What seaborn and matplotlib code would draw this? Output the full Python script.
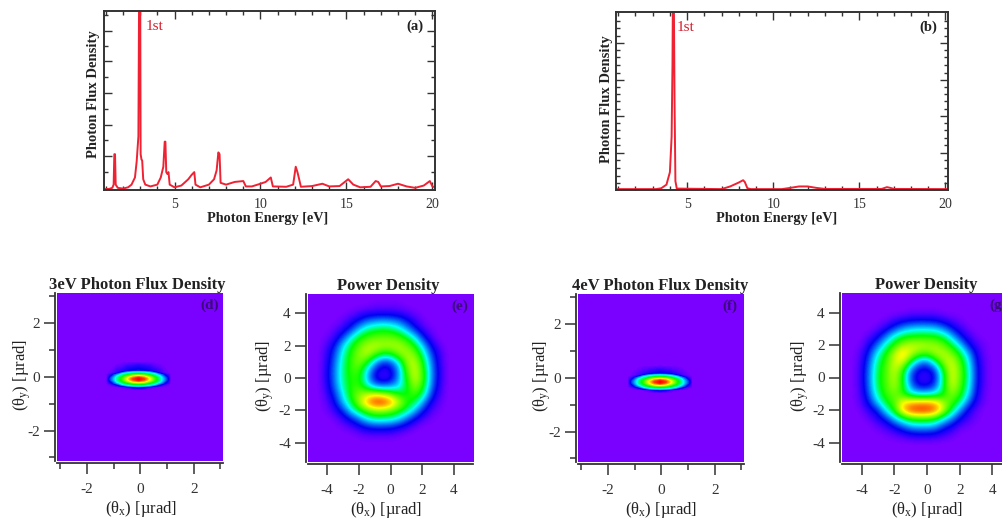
import numpy as np
import matplotlib
matplotlib.use("Agg")
import matplotlib.pyplot as plt
import seaborn as sns
from matplotlib.colors import LinearSegmentedColormap
from matplotlib.ticker import FixedLocator, NullFormatter

# spectra (flux is 0-1 of the axis height)
energy_a = [0.87, 1.2, 1.38, 1.46, 1.5, 1.54, 1.58, 1.7, 2.0, 2.3, 2.5, 2.7, 2.8, 2.9, 2.95, 3.0, 3.03, 3.08, 3.12, 3.18,
            3.3, 3.6, 4.0, 4.2, 4.35, 4.43, 4.47, 4.52, 4.58, 4.65, 4.72, 5.0, 5.4, 5.8, 6.0, 6.05, 6.15, 6.22, 6.5,
            7.0, 7.3, 7.45, 7.55, 7.62, 7.68, 8.0, 8.5, 9.0, 9.15, 9.5, 10.0, 10.3, 10.6, 10.72, 11.5, 11.9, 12.05,
            12.15, 12.25, 12.35, 13.0, 13.6, 14.0, 14.6, 15.1, 15.4, 15.8, 16.4, 16.7, 16.85, 17.0, 17.5, 18.0, 18.5,
            19.0, 19.5, 19.85, 20.0, 20.15]
flux_a = [.005, .006, .012, .03, .2, .2, .03, .012, .008, .015, .03, .07, .16, .3, 1.3, 1.3, .2, .17, .165, .06,
          .03, .02, .03, .07, .13, .27, .27, .1, .09, .1, .03, .015, .025, .06, .085, .09, .1, .03, .015,
          .03, .06, .11, .21, .2, .04, .03, .045, .05, .02, .02, .035, .045, .07, .02, .018, .03, .13,
          .1, .06, .018, .022, .035, .02, .022, .06, .03, .015, .018, .05, .045, .02, .022, .035, .02,
          .012, .025, .05, .02, .015]

energy_b = [0.87, 3.2, 3.5, 3.8, 4.0, 4.1, 4.15, 4.18, 4.22, 4.27, 4.32, 4.4, 7.0, 7.5, 8.0, 8.25, 8.35, 8.5, 8.7,
            10.5, 11.0, 11.5, 12.0, 12.5, 13.0, 16.3, 16.6, 16.8, 17.0, 20.15]
flux_b = [.005, .005, .01, .03, .1, .3, .7, 1.2, 1.2, .5, .05, .008, .005, .02, .042, .055, .045, .01, .005,
          .005, .012, .02, .02, .012, .006, .006, .016, .012, .006, .005]

# central spot maps, rows go top to bottom
spot_x_d = [-3.1, -1.27, -1.07, -.87, -.67, -.47, -.27, -.07, .13, .33, .53, .73, .93, 1.13, 3.1]
spot_y_d = [3.1, .55, .4, .21, .16, .11, .06, .01, -.04, -.09, -.14, -.19, -.24, -.29, -.34, -.39, -.49, -3.1]
spot_d = [[0] * 15,
          [0] * 15,
          [0, 0, 0, 1, 2, 4, 5, 6, 5, 4, 2, 1, 0, 0, 0],
          [0, 0, 1, 4, 6, 9, 11, 12, 11, 9, 6, 4, 1, 0, 0],
          [0, 0, 1, 4, 11, 24, 31, 33, 31, 24, 11, 4, 1, 0, 0],
          [0, 0, 3, 11, 30, 38, 42, 43, 42, 38, 30, 11, 3, 0, 0],
          [0, 0, 8, 24, 38, 46, 55, 59, 55, 46, 38, 24, 8, 0, 0],
          [0, 0, 12, 33, 44, 57, 71, 77, 71, 57, 44, 33, 12, 0, 0],
          [0, 0, 18, 37, 50, 68, 85, 96, 85, 68, 50, 37, 18, 0, 0],
          [0, 0, 20, 38, 52, 72, 93, 100, 93, 72, 52, 38, 20, 0, 0],
          [0, 0, 18, 37, 50, 68, 85, 96, 85, 68, 50, 37, 18, 0, 0],
          [0, 0, 12, 33, 44, 57, 71, 77, 71, 57, 44, 33, 12, 0, 0],
          [0, 0, 8, 24, 38, 46, 55, 59, 55, 46, 38, 24, 8, 0, 0],
          [0, 0, 3, 11, 30, 38, 42, 43, 42, 38, 30, 11, 3, 0, 0],
          [0, 0, 1, 4, 11, 24, 31, 33, 31, 24, 11, 4, 1, 0, 0],
          [0, 0, 0, 0, 1, 3, 8, 11, 8, 3, 1, 0, 0, 0, 0],
          [0] * 15,
          [0] * 15]

spot_x_f = [-3.1, -1.25, -1.05, -.85, -.65, -.45, -.25, -.05, .15, .35, .55, .75, .95, 1.15, 3.1]
spot_y_f = [3.1, .45, .3, .14, .09, .04, -.01, -.06, -.11, -.16, -.21, -.26, -.31, -.36, -.41, -.46, -.56, -3.1]
spot_f = [[0] * 15,
          [0] * 15,
          [0, 0, 0, 1, 2, 3, 4, 5, 4, 3, 2, 1, 0, 0, 0],
          [0, 0, 1, 3, 5, 8, 10, 12, 10, 8, 5, 3, 1, 0, 0],
          [0, 0, 1, 4, 11, 24, 31, 33, 31, 24, 11, 4, 1, 0, 0],
          [0, 0, 3, 11, 30, 38, 42, 43, 42, 38, 30, 11, 3, 0, 0],
          [0, 0, 8, 24, 38, 46, 55, 59, 55, 46, 38, 24, 8, 0, 0],
          [0, 0, 12, 33, 44, 57, 71, 77, 71, 57, 44, 33, 12, 0, 0],
          [0, 0, 18, 37, 50, 68, 85, 96, 85, 68, 50, 37, 18, 0, 0],
          [0, 0, 20, 38, 52, 72, 93, 100, 93, 72, 52, 38, 20, 0, 0],
          [0, 0, 18, 37, 50, 68, 85, 96, 85, 68, 50, 37, 18, 0, 0],
          [0, 0, 12, 33, 44, 57, 71, 77, 71, 57, 44, 33, 12, 0, 0],
          [0, 0, 8, 24, 38, 46, 55, 59, 55, 46, 38, 24, 8, 0, 0],
          [0, 0, 3, 11, 30, 38, 42, 43, 42, 38, 30, 11, 3, 0, 0],
          [0, 0, 1, 4, 11, 24, 31, 33, 31, 24, 11, 4, 1, 0, 0],
          [0, 0, 0, 0, 1, 3, 8, 11, 8, 3, 1, 0, 0, 0, 0],
          [0] * 15,
          [0] * 15]

# power density maps, 0.5 urad steps, x -5..5, y 5..-5
power_e = [[0] * 21,
           [0, 0, 0, 0, 0, 0, 0, 0, 1, 1, 1, 1, 0, 0, 0, 0, 0, 0, 0, 0, 0],
           [0, 0, 0, 0, 0, 1, 3, 5, 6, 6, 6, 5, 3, 1, 0, 0, 0, 0, 0, 0, 0],
           [0, 0, 0, 0, 2, 6, 12, 20, 24, 26, 24, 20, 12, 5, 1, 0, 0, 0, 0, 0, 0],
           [0, 0, 0, 2, 6, 14, 29, 40, 44, 46, 44, 38, 26, 13, 4, 1, 0, 0, 0, 0, 0],
           [0, 0, 1, 5, 16, 33, 47, 53, 56, 57, 57, 54, 46, 33, 13, 3, 0, 0, 0, 0, 0],
           [0, 0, 3, 12, 30, 46, 56, 64, 66, 64, 64, 64, 58, 48, 29, 10, 2, 0, 0, 0, 0],
           [0, 0, 5, 17, 36, 50, 60, 66, 56, 46, 48, 60, 64, 58, 40, 17, 5, 0, 0, 0, 0],
           [0, 0, 6, 20, 39, 52, 60, 50, 28, 14, 18, 36, 62, 66, 48, 22, 6, 0, 0, 0, 0],
           [0, 0, 7, 22, 40, 52, 54, 32, 12, 5, 8, 24, 56, 68, 52, 25, 7, 0, 0, 0, 0],
           [0, 0, 7, 22, 40, 50, 50, 28, 8, 3, 6, 26, 50, 68, 54, 25, 7, 0, 0, 0, 0],
           [0, 0, 6, 20, 38, 50, 52, 38, 24, 20, 24, 30, 46, 62, 50, 22, 6, 0, 0, 0, 0],
           [0, 0, 4, 15, 33, 50, 60, 66, 70, 66, 58, 48, 46, 54, 42, 16, 4, 0, 0, 0, 0],
           [0, 0, 2, 10, 28, 44, 62, 82, 96, 96, 85, 66, 50, 44, 25, 8, 2, 0, 0, 0, 0],
           [0, 0, 1, 5, 14, 32, 46, 56, 62, 62, 58, 50, 42, 27, 12, 3, 1, 0, 0, 0, 0],
           [0, 0, 0, 1, 5, 12, 22, 34, 40, 40, 38, 32, 20, 10, 3, 1, 0, 0, 0, 0, 0],
           [0, 0, 0, 0, 1, 3, 7, 12, 14, 14, 13, 9, 5, 1, 0, 0, 0, 0, 0, 0, 0],
           [0, 0, 0, 0, 0, 0, 1, 2, 2, 2, 2, 1, 0, 0, 0, 0, 0, 0, 0, 0, 0],
           [0] * 21,
           [0] * 21,
           [0] * 21]

power_g = [[0] * 21,
           [0] * 21,
           [0, 0, 0, 0, 0, 0, 0, 0, 1, 1, 1, 1, 0, 0, 0, 0, 0, 0, 0, 0, 0],
           [0, 0, 0, 0, 0, 1, 4, 7, 9, 10, 10, 9, 6, 3, 1, 0, 0, 0, 0, 0, 0],
           [0, 0, 0, 0, 2, 7, 15, 24, 29, 31, 31, 29, 22, 12, 5, 1, 0, 0, 0, 0, 0],
           [0, 0, 0, 3, 9, 21, 37, 46, 49, 50, 50, 49, 44, 30, 13, 5, 1, 0, 0, 0, 0],
           [0, 0, 1, 8, 20, 38, 50, 62, 66, 66, 64, 62, 56, 46, 31, 12, 4, 1, 0, 0, 0],
           [0, 0, 3, 14, 34, 48, 64, 78, 68, 58, 56, 64, 66, 58, 46, 27, 8, 1, 0, 0, 0],
           [0, 0, 4, 19, 41, 52, 68, 72, 48, 26, 22, 42, 62, 68, 54, 35, 11, 2, 0, 0, 0],
           [0, 0, 5, 22, 44, 54, 68, 54, 22, 9, 7, 16, 48, 70, 58, 38, 13, 2, 0, 0, 0],
           [0, 0, 5, 23, 45, 54, 66, 48, 16, 5, 4, 10, 42, 70, 58, 39, 13, 2, 0, 0, 0],
           [0, 0, 5, 22, 44, 54, 64, 50, 22, 9, 8, 16, 44, 68, 56, 37, 12, 2, 0, 0, 0],
           [0, 0, 4, 19, 40, 52, 58, 50, 36, 30, 30, 34, 46, 60, 52, 32, 10, 1, 0, 0, 0],
           [0, 0, 3, 13, 31, 47, 54, 72, 76, 78, 78, 76, 62, 54, 42, 22, 6, 1, 0, 0, 0],
           [0, 0, 1, 6, 13, 34, 50, 78, 94, 98, 98, 90, 68, 44, 25, 8, 2, 0, 0, 0, 0],
           [0, 0, 0, 2, 6, 14, 29, 42, 52, 54, 54, 50, 36, 24, 10, 4, 1, 0, 0, 0, 0],
           [0, 0, 0, 0, 2, 4, 10, 18, 26, 28, 28, 25, 14, 8, 2, 1, 0, 0, 0, 0, 0],
           [0, 0, 0, 0, 0, 1, 2, 4, 7, 8, 8, 7, 4, 2, 0, 0, 0, 0, 0, 0, 0],
           [0] * 21,
           [0] * 21,
           [0] * 21]

W = 1002
H = 518
RED = "#ee2233"
DARK = "#333333"
LETTER = "#3a0a78"

sns.set_theme(style="ticks")
plt.rcParams["font.family"] = ["Liberation Serif", "DejaVu Serif"]
plt.rcParams["mathtext.default"] = "regular"
plt.rcParams["axes.unicode_minus"] = False
plt.rcParams["text.color"] = "#222222"
plt.rcParams["axes.labelcolor"] = "#222222"
plt.rcParams["xtick.color"] = DARK
plt.rcParams["ytick.color"] = DARK

rainbow = LinearSegmentedColormap.from_list("igor", [(0, "#7a00ff"), (.05, "#3000ff"), (.1, "#0000f0"), (.33, "#00ffff"),
                                                     (.47, "#00ff00"), (.72, "#ffff00"), (.85, "#ff8000"), (1, "#ff0000")])


def px_axes(fig, left, right, top, bottom):
    return fig.add_axes([left / W, 1 - bottom / H, (right - left) / W, (bottom - top) / H])


def spectrum(fig, box, energy, flux, yticks, yminor, letter, first_x, xlab_x, ylab_x, ylab_y):
    ax = px_axes(fig, *box)
    sns.lineplot(x=energy, y=flux, color=RED, linewidth=1.4, errorbar=None, ax=ax)
    ax.set_xlim(0.87, 20.15)
    ax.set_ylim(0, 1)
    ax.xaxis.set_major_locator(FixedLocator([5, 10, 15, 20]))
    ax.xaxis.set_minor_locator(FixedLocator(list(range(1, 21))))
    ax.yaxis.set_major_locator(FixedLocator(yticks))
    ax.yaxis.set_minor_locator(FixedLocator(yminor))
    ax.yaxis.set_major_formatter(NullFormatter())
    ax.tick_params(which="major", direction="in", top=True, right=True, length=5.5, width=1, labelsize=10, pad=6)
    ax.tick_params(which="minor", direction="in", top=True, right=True, length=3, width=1)
    for s in ax.spines.values():
        s.set_linewidth(1.4)
        s.set_color(DARK)
    ax.set_xlabel("Photon Energy [eV]", fontsize=10.3, fontweight="bold")
    ax.set_ylabel("Photon Flux Density", fontsize=10.5, fontweight="bold")
    ax.xaxis.set_label_coords(xlab_x, -0.125)
    ax.yaxis.set_label_coords(ylab_x, ylab_y)
    ax.text(first_x, 0.915, "1st", color="#d42030", fontsize=11, va="center")
    ax.text(0.94, 0.915, letter, transform=ax.transAxes, color="#222222", fontsize=10.5, fontweight="bold",
            ha="center", va="center")
    return ax


def map_axes(fig, box, lim, major, minor, title, letter, title_x, xlab_x, ylab_x):
    ax = px_axes(fig, *box)
    ax.set_xlim(lim)
    ax.set_ylim(lim)
    ax.set_facecolor("#7a00ff")
    ax.set_xticks(major)
    ax.set_yticks(major)
    ax.set_xticks(minor, minor=True)
    ax.set_yticks(minor, minor=True)
    ax.tick_params(which="major", direction="out", length=8, width=1.1, labelsize=11, pad=6.5)
    ax.tick_params(which="minor", direction="out", length=4.5, width=1.1)
    ax.tick_params(axis="y", which="major", pad=3)
    sns.despine(ax=ax)
    ax.spines["left"].set_position(("outward", 1.5))
    ax.spines["bottom"].set_position(("outward", 1.5))
    for name in ["left", "bottom"]:
        ax.spines[name].set_linewidth(1.3)
        ax.spines[name].set_color(DARK)
    ax.set_xlabel("(θ$_{x}$) [µrad]", fontsize=12)
    ax.set_ylabel("(θ$_{y}$) [µrad]", fontsize=12)
    ax.xaxis.set_label_coords(xlab_x, -0.225)
    ax.yaxis.set_label_coords(ylab_x, 0.51)
    ax.text(title_x, 1.0, title, transform=ax.transAxes, fontsize=12, fontweight="bold", ha="center", va="bottom")
    ax.text(0.917, 0.925, letter, transform=ax.transAxes, color=LETTER, fontsize=11, fontweight="bold",
            ha="center", va="center", clip_on=False)
    return ax


def spot(ax, xs, ys, values):
    ax.contourf(xs, ys, np.array(values, dtype=float), levels=np.linspace(0, 100, 160), cmap=rainbow,
                vmin=0, vmax=100, antialiased=False, extend="both")


def ring(ax, values):
    ax.imshow(np.array(values, dtype=float), extent=(-5.25, 5.25, -5.25, 5.25), cmap=rainbow, vmin=0, vmax=100,
              interpolation="bicubic", aspect="auto")
    ax.set_xlim(-5.2, 5.2)
    ax.set_ylim(-5.2, 5.2)


fig = plt.figure(figsize=(W / 100, H / 100), dpi=100)

yt_a = [.19, .365, .54, .72, .89]
ym_a = [.1, .28, .455, .63, .805, .98]
spectrum(fig, (103.5, 435, 11, 190), energy_a, flux_a, yt_a, ym_a, "(a)", 3.3, .495, -0.011, .535)
yt_b = [.21, .415, .62, .825]
ym_b = [.04, .08, .125, .17, .25, .29, .335, .375, .455, .5, .54, .58, .66, .705, .745, .785, .865, .91, .95]
spectrum(fig, (616, 948, 12, 190), energy_b, flux_b, yt_b, ym_b, "(b)", 4.4, .485, -0.009, .51)

lim_s = (-3.13, 3.1)
maj_s = [-2, 0, 2]
min_s = [-3, -1, 1, 3]
ax_d = map_axes(fig, (57, 223, 293, 461), lim_s, maj_s, min_s, "3eV Photon Flux Density", "(d)", 0.485, .505, -.144)
spot(ax_d, spot_x_d, spot_y_d, spot_d)
ax_f = map_axes(fig, (578, 744, 294, 462), lim_s, maj_s, min_s, "4eV Photon Flux Density", "(f)", 0.497, .5, -.15)
spot(ax_f, spot_x_f, spot_y_f, spot_f)

maj_p = [-4, -2, 0, 2, 4]
ax_e = map_axes(fig, (308, 473, 294, 462), (-5.2, 5.2), maj_p, [], "Power Density", "(e)", 0.485, .473, -.193)
ring(ax_e, power_e)
ax_g = map_axes(fig, (842, 1012, 293, 462), (-5.2, 5.2), maj_p, [], "Power Density", "(g)", 0.497, .5, -.185)
ring(ax_g, power_g)

fig.savefig("out.png", dpi=100)
